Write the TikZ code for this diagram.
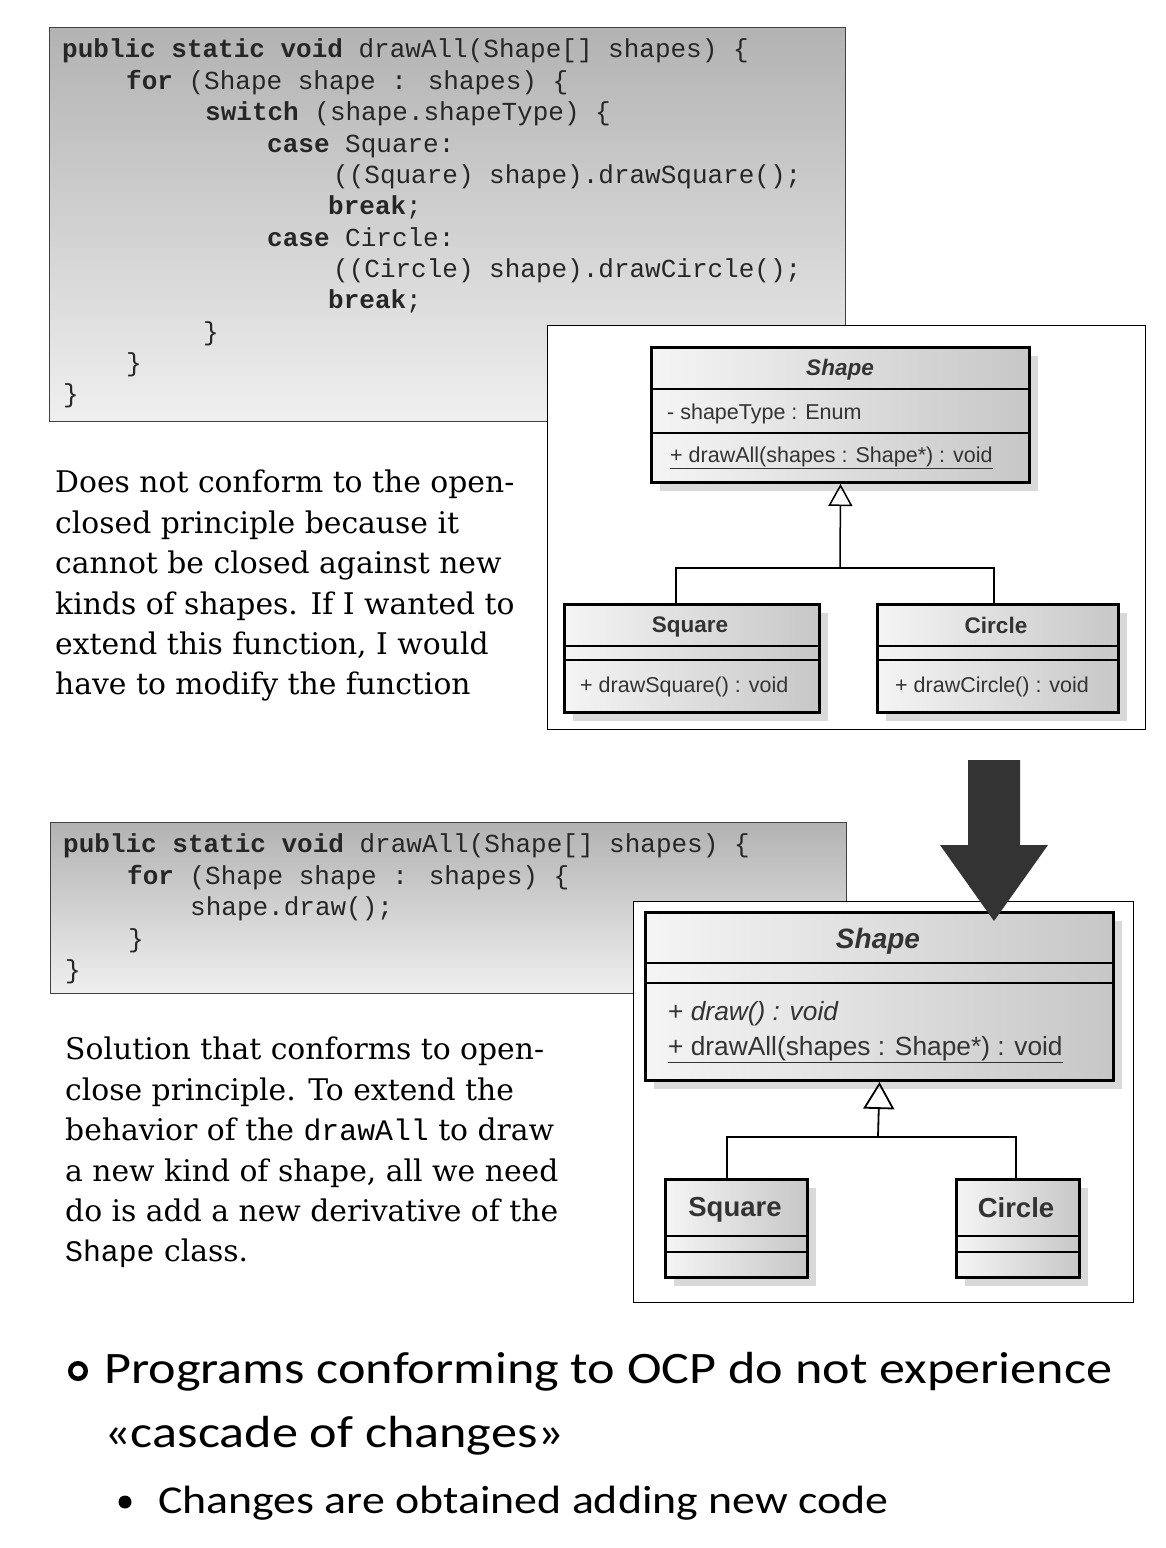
\documentclass[tikz,border=0pt]{standalone}
\usepackage{fontspec}
\usetikzlibrary{arrows.meta,shadows}
\newfontfamily\codefont{Liberation Mono}
\newfontfamily\umlfont{Liberation Sans}
\newfontfamily\parafont{DejaVu Serif}
\newfontfamily\slidefont[FakeStretch=1.16]{Carlito}
\begin{document}
\begin{tikzpicture}[x=1pt,y=-1pt,
    codeln/.style={anchor=mid west, inner sep=0, text=black!85, font=\codefont\fontsize{26}{30}\selectfont},
    codebox/.style={draw=black!75, line width=1.2, top color=black!30, bottom color=black!6, anchor=north west, inner sep=0},
    umlframe/.style={draw, fill=white, line width=1, anchor=north west, inner sep=0},
    umlbox/.style={draw, line width=3, left color=black!4, right color=black!22, anchor=north west, inner sep=0,
        drop shadow={shadow xshift=8pt, shadow yshift=-8pt, fill=black!15, opacity=1}},
    umltxt/.style={inner sep=0, text=black!80, font=\umlfont\fontsize{21.5}{24}\selectfont},
    umlbig/.style={inner sep=0, text=black!80, font=\umlfont\fontsize{26.3}{30}\selectfont},
    isa/.style={-{Triangle[open,length=22pt,width=24pt]}, line width=1.5},
    isabig/.style={-{Triangle[open,length=27pt,width=31pt]}, line width=1.8},
    para/.style={anchor=north west, inner sep=0, align=left, font=\parafont\fontsize{29.8}{40.4}\selectfont},
    slide/.style={anchor=base west, inner sep=0, font=\slidefont\fontsize{45}{55}\selectfont}]
\useasboundingbox (0,0) rectangle (1166,1548);

    %%first code
    \node[codebox, minimum width=796, minimum height=394] (code1) at (49,27) {};
        \node[codeln] (a1) at (62,55) {\textbf{public static void} drawAll(Shape[] shapes) \{};
        \node[codeln] (a2) at (126,87) {\textbf{for} (Shape shape : shapes) \{};
        \node[codeln] (a3) at (205,118) {\textbf{switch} (shape.shapeType) \{};
        \node[codeln] (a4) at (267,150) {\textbf{case} Square:};
        \node[codeln] (a5) at (333,181) {((Square) shape).drawSquare();};
        \node[codeln] (a6) at (328,212) {\textbf{break};};
        \node[codeln] (a7) at (267,244) {\textbf{case} Circle:};
        \node[codeln] (a8) at (333,275) {((Circle) shape).drawCircle();};
        \node[codeln] (a9) at (328,306) {\textbf{break};};
        \node[codeln] (a10) at (203,338) {\}};
        \node[codeln] (a11) at (126,369) {\}};
        \node[codeln] (a12) at (63,400) {\}};

    %%first diagram
    \node[umlframe, minimum width=598, minimum height=404] (frame1) at (547,325) {};
    \node[umlbox, minimum width=378, minimum height=135] (shape1) at (650,346) {};
        \draw[line width=1.5] (650,389) to (1028,389);
        \draw[line width=1.5] (650,433) to (1028,433);
        \node[umltxt, font=\umlfont\fontsize{22.5}{26}\selectfont] (s1name) at (840,370) {\bfseries\itshape Shape};
        \node[umltxt, anchor=mid west] (s1attr) at (667,417) {- shapeType : Enum};
        \node[umltxt, anchor=mid west] (s1op) at (670,460) {\underline{+ drawAll(shapes : Shape*) : void}};
    \node[umlbox, minimum width=255, minimum height=108] (square1) at (563,603) {};
        \draw[line width=1.5] (563,646) to (818,646);
        \draw[line width=1.5] (563,660) to (818,660);
        \node[umltxt, font=\umlfont\fontsize{22.5}{26}\selectfont] (q1name) at (690,627) {\bfseries Square};
        \node[umltxt, anchor=mid west] (q1op) at (580,690) {+ drawSquare() : void};
    \node[umlbox, minimum width=241, minimum height=108] (circle1) at (876,603) {};
        \draw[line width=1.5] (876,646) to (1117,646);
        \draw[line width=1.5] (876,660) to (1117,660);
        \node[umltxt, font=\umlfont\fontsize{22.5}{26}\selectfont] (c1name) at (996,625) {\bfseries Circle};
        \node[umltxt, anchor=mid west] (c1op) at (895,690) {+ drawCircle() : void};
    \coordinate (join1) at (840,568);
    \draw[line width=1.5] (square1.north -| 676,0) |- (join1);
    \draw[line width=1.5] (circle1.north -| 994,0) |- (join1);
    \draw[isa] (join1) to (shape1.south);

    %%first text
    \node[para] (desc1) at (55,470) {Does not conform to the open-\\closed principle because it\\cannot be closed against new\\kinds of shapes. If I wanted to\\extend this function, I would\\have to modify the function};

    %%second code
    \node[codebox, minimum width=796, minimum height=171] (code2) at (50,822) {};
        \node[codeln] (b1) at (63,850) {\textbf{public static void} drawAll(Shape[] shapes) \{};
        \node[codeln] (b2) at (127,882) {\textbf{for} (Shape shape : shapes) \{};
        \node[codeln] (b3) at (190,913) {shape.draw();};
        \node[codeln] (b4) at (128,945) {\}};
        \node[codeln] (b5) at (65,976) {\}};

    %%second diagram
    \node[umlframe, minimum width=500, minimum height=401] (frame2) at (633,901) {};
    \node[umlbox, minimum width=468, minimum height=168] (shape2) at (644,911) {};
        \draw[line width=1.8] (644,963) to (1112,963);
        \draw[line width=1.8] (644,983) to (1112,983);
        \node[umlbig, font=\umlfont\fontsize{28}{32}\selectfont] (s2name) at (878,941) {\bfseries\itshape Shape};
        \node[umlbig, anchor=mid west] (s2op1) at (668,1018) {+ \itshape draw() : void};
        \node[umlbig, anchor=mid west] (s2op2) at (668,1053) {\underline{+ drawAll(shapes : Shape*) : void}};
    \node[umlbox, minimum width=142, minimum height=98] (square2) at (664,1178) {};
        \draw[line width=1.8] (664,1236) to (806,1236);
        \draw[line width=1.8] (664,1252) to (806,1252);
        \node[umlbig, font=\umlfont\fontsize{27.5}{32}\selectfont] (q2name) at (735,1210) {\bfseries Square};
    \node[umlbox, minimum width=123, minimum height=98] (circle2) at (955,1178) {};
        \draw[line width=1.8] (955,1236) to (1078,1236);
        \draw[line width=1.8] (955,1252) to (1078,1252);
        \node[umlbig, font=\umlfont\fontsize{27.5}{32}\selectfont] (c2name) at (1016,1208) {\bfseries Circle};
    \coordinate (join2) at (878,1137);
    \draw[line width=1.8] (square2.north -| 727,0) |- (join2);
    \draw[line width=1.8] (circle2.north -| 1016,0) |- (join2);
    \draw[isabig] (join2) to (shape2.south);

    %%second text
    \node[para] (desc2) at (65,1037) {Solution that conforms to open-\\close principle. To extend the\\behavior of the {\codefont drawAll} to draw\\a new kind of shape, all we need\\do is add a new derivative of the\\{\codefont Shape} class.};

    %%big arrow
    \fill[black!80] (968,760) -- (1020,760) -- (1020,845) -- (1048,845) -- (994,921) -- (940,845) -- (968,845) -- cycle;

    %%bullets
    \node[circle, draw, line width=4.5, minimum size=15.5, inner sep=0] (ring) at (78,1371) {};
    \node[slide] (pt1) at (104,1383) {Programs conforming to OCP do not experience};
    \node[slide] (pt2) at (104,1447) {«cascade of changes»};
    \node[circle, fill, minimum size=13, inner sep=0] (dot) at (125,1502) {};
    \node[slide, font=\slidefont\fontsize{39.5}{48}\selectfont] (pt3) at (158,1513) {Changes are obtained adding new code};
\end{tikzpicture}
\end{document}
